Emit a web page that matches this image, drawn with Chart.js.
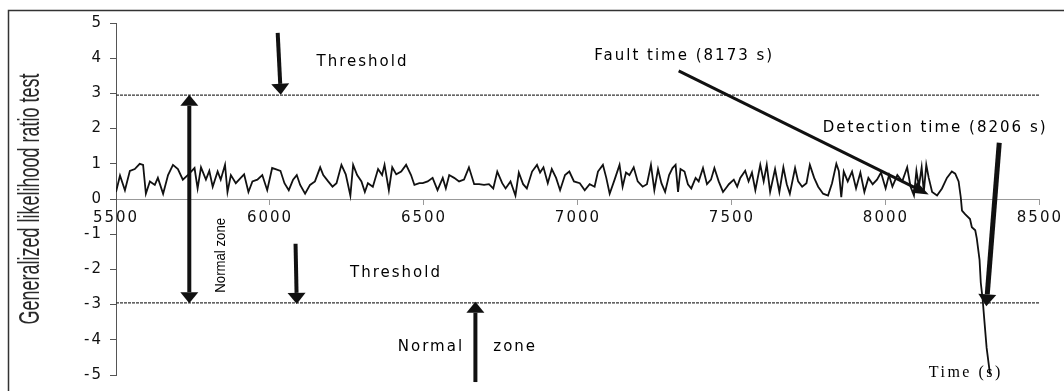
<!DOCTYPE html>
<html><head><meta charset="utf-8">
<script src="https://cdn.jsdelivr.net/npm/chart.js@4/dist/chart.umd.min.js"></script>
<style>html,body{margin:0;padding:0;background:#fff;}#wrap{width:1064px;height:391px;}</style>
</head><body><div id="wrap"><canvas id="c" width="1064" height="391"></canvas></div>
<script>
// ---- data ----
const times = [
5500,5513,5529,5545,5561,5577,5588,5597,5610,5626,5636,5653,5669,5685,5701,5717,5733,5755,5765,5776,5792,5803,5814,5830,5840,5854,5862,5873,5889,5905,5916,5930,5943,5959,5975,5991,
6007,6018,6034,6047,6061,6075,6087,6098,6114,6130,6146,6163,6173,6189,6203,6216,6232,6246,6261,6270,6283,6297,6308,6318,6334,6351,6364,6372,6386,6397,6410,6426,6442,6458,6469,6485,
6496,6512,6528,6544,6561,6571,6582,6598,6614,6630,6646,6663,6679,6695,6711,6725,6738,6754,6765,6781,6797,6808,6822,6834,6851,6867,6877,6888,6902,6915,6929,6942,6958,6972,6987,
7006,7022,7038,7054,7065,7081,7092,7103,7119,7135,7145,7156,7167,7181,7194,7210,7224,7237,7248,7260,7271,7283,7296,7307,7317,7325,7333,7346,7357,7368,7382,7392,7406,7419,7432,7443,7457,7471,7484,
7490,7506,7517,7527,7543,7554,7565,7576,7592,7603,7613,7624,7640,7654,7667,7678,7688,7705,7715,7728,7742,7753,7767,7780,7796,7812,7825,7839,7847,7855,7863,7876,7890,7903,7917,7930,7943,7957,7971,7984,
7999,8010,8021,8037,8053,8069,8080,8091,8099,8107,8116,8123,8131,8139,8150,8166,8182,8198,8214,8225,8236,8243,8247,8257,8273,8279,8290,8295,8304,8308,8314,8320,8327,8338
];
const glrValues = [
0.2,0.67,0.25,0.8,0.85,1.0,0.97,0.15,0.5,0.4,0.6,0.15,0.68,0.97,0.85,0.55,0.68,0.88,0.3,0.9,0.55,0.8,0.35,0.78,0.55,0.97,0.2,0.68,0.45,0.6,0.7,0.2,0.5,0.55,0.68,0.25,
0.88,0.85,0.8,0.45,0.25,0.55,0.68,0.4,0.15,0.4,0.5,0.9,0.68,0.5,0.35,0.45,0.97,0.7,0.1,0.97,0.68,0.5,0.2,0.45,0.35,0.85,0.68,0.97,0.25,0.9,0.7,0.78,0.97,0.68,0.4,0.45,
0.45,0.5,0.6,0.25,0.6,0.3,0.68,0.6,0.5,0.55,0.9,0.42,0.42,0.4,0.42,0.3,0.78,0.45,0.3,0.5,0.1,0.75,0.42,0.3,0.78,0.97,0.75,0.9,0.45,0.85,0.6,0.25,0.68,0.78,0.5,
0.45,0.25,0.42,0.35,0.78,0.97,0.6,0.15,0.55,0.97,0.35,0.75,0.68,0.9,0.5,0.35,0.42,0.97,0.25,0.85,0.45,0.2,0.68,0.88,0.97,0.2,0.85,0.78,0.42,0.3,0.6,0.5,0.88,0.42,0.55,0.88,0.5,0.2,0.35,
0.42,0.55,0.35,0.6,0.8,0.5,0.75,0.25,0.97,0.5,0.97,0.2,0.85,0.2,0.9,0.42,0.15,0.88,0.5,0.35,0.45,0.97,0.6,0.35,0.15,0.1,0.45,1.0,0.8,0.05,0.78,0.5,0.78,0.3,0.75,0.2,0.6,0.42,0.55,0.75,
0.3,0.68,0.35,0.68,0.5,0.9,0.35,0.1,0.8,0.35,0.9,0.2,0.97,0.6,0.2,0.1,0.3,0.6,0.78,0.72,0.5,0.05,-0.33,-0.43,-0.57,-0.8,-0.89,-1.12,-1.73,-2.38,-2.84,-3.49,-4.23,-4.98
];
const thresholdTimes = [5500, 8500];
const upperThreshold = [2.95, 2.95];
const lowerThreshold = [-2.95, -2.95];
const xTickValues = [5500, 6000, 6500, 7000, 7500, 8000, 8500];
const yTickValues = [-5, -4, -3, -2, -1, 0, 1, 2, 3, 4, 5];
const yTitle = 'Generalized likelihood ratio test';

// ---- annotations (positions in data units) ----
const arrows = [
  {from:[6025,4.72], to:[6035,2.96], lw:4, hl:11, hw:18},
  {from:[5738,-2.96], to:[5738,2.96], lw:4, hl:11, hw:18, both:true},
  {from:[6083,-1.27], to:[6087,-2.98], lw:4, hl:11, hw:18},
  {from:[6667,-5.2], to:[6667,-2.92], lw:4, hl:11, hw:18},
  {from:[7327,3.64], to:[8139,0.13], lw:3, hl:16, hw:12},
  {from:[8368,1.6], to:[8326,-3.05], lw:5, hl:12, hw:18}
];
const notes = [
  {text:'Threshold', at:[6151,3.89]},
  {text:'Threshold', at:[6260,-2.1]},
  {text:'Normal', at:[6415,-4.22]},
  {text:'zone', at:[6725,-4.22]},
  {text:'Fault time (8173 s)', at:[7053,4.05]},
  {text:'Detection time (8206 s)', at:[7795,2.02]},
  {text:'Time (s)', at:[8139,-4.94], serif:true}
];
const rotatedNote = {text:'Normal zone', at:[5842,-1.6]};

const SANS = '"DejaVu Sans", Arial, sans-serif';
const SPACING = '2px';

function drawArrow(ctx, x1, y1, x2, y2, lw, hl, hw) {
  const a = Math.atan2(y2 - y1, x2 - x1);
  const bx = x2 - hl * Math.cos(a), by = y2 - hl * Math.sin(a);
  ctx.lineWidth = lw;
  ctx.beginPath(); ctx.moveTo(x1, y1); ctx.lineTo(bx, by); ctx.stroke();
  const px = -Math.sin(a) * hw / 2, py = Math.cos(a) * hw / 2;
  ctx.beginPath();
  ctx.moveTo(x2, y2); ctx.lineTo(bx + px, by + py); ctx.lineTo(bx - px, by - py);
  ctx.closePath(); ctx.fill();
}

const decor = {
  id: 'decor',
  beforeDraw(chart) {
    const ctx = chart.ctx;
    ctx.save();
    ctx.fillStyle = '#fff';
    ctx.fillRect(0, 0, chart.width, chart.height);
    ctx.strokeStyle = '#333';
    ctx.lineWidth = 1.5;
    ctx.strokeRect(8.5, 10.5, 1070, 400);
    ctx.restore();
    ctx.letterSpacing = SPACING;
  },
  afterDraw(chart) {
    const ctx = chart.ctx, xs = chart.scales.x, ys = chart.scales.y, ca = chart.chartArea;
    ctx.save();
    ctx.fillStyle = '#111'; ctx.strokeStyle = '#111'; ctx.lineCap = 'butt';
    arrows.forEach(a => {
      const x1 = xs.getPixelForValue(a.from[0]), y1 = ys.getPixelForValue(a.from[1]);
      const x2 = xs.getPixelForValue(a.to[0]), y2 = ys.getPixelForValue(a.to[1]);
      if (a.both) {
        const mx = (x1 + x2) / 2, my = (y1 + y2) / 2;
        drawArrow(ctx, mx, my, x2, y2, a.lw, a.hl, a.hw);
        drawArrow(ctx, mx, my, x1, y1, a.lw, a.hl, a.hw);
      } else {
        drawArrow(ctx, x1, y1, x2, y2, a.lw, a.hl, a.hw);
      }
    });
    ctx.fillStyle = '#000';
    ctx.textAlign = 'left'; ctx.textBaseline = 'middle';
    notes.forEach(n => {
      ctx.letterSpacing = n.serif ? '2.5px' : SPACING;
      ctx.font = n.serif ? '16px "Liberation Serif", "Times New Roman", serif' : '15px ' + SANS;
      ctx.fillText(n.text, xs.getPixelForValue(n.at[0]), ys.getPixelForValue(n.at[1]));
    });
    // rotated note
    ctx.save();
    ctx.letterSpacing = '0px';
    ctx.translate(xs.getPixelForValue(rotatedNote.at[0]), ys.getPixelForValue(rotatedNote.at[1]));
    ctx.rotate(-Math.PI / 2);
    ctx.scale(0.88, 1);
    ctx.font = '15px "Liberation Sans", Arial, sans-serif';
    ctx.textAlign = 'center';
    ctx.fillText(rotatedNote.text, 0, 0);
    ctx.restore();
    // y axis title
    ctx.save();
    ctx.letterSpacing = '0px';
    ctx.fillStyle = '#2a2a2a';
    ctx.translate(31, (ca.top + ca.bottom) / 2);
    ctx.rotate(-Math.PI / 2);
    ctx.scale(0.6, 1);
    ctx.font = '30px "Liberation Sans", Arial, sans-serif';
    ctx.textAlign = 'center'; ctx.textBaseline = 'middle';
    ctx.fillText(yTitle, 0, 0);
    ctx.restore();
    ctx.restore();
  }
};

const tickFont = {family: SANS, size: 15};
new Chart(document.getElementById('c'), {
  type: 'line',
  data: {
    datasets: [
      {data: times.map((t, i) => ({x: t, y: glrValues[i]})), borderColor: '#111', borderWidth: 1.8, pointRadius: 0, tension: 0, fill: false},
      {data: thresholdTimes.map((t, i) => ({x: t, y: upperThreshold[i]})), borderColor: '#333', borderWidth: 1.2, borderDash: [3, 1], pointRadius: 0},
      {data: thresholdTimes.map((t, i) => ({x: t, y: lowerThreshold[i]})), borderColor: '#333', borderWidth: 1.2, borderDash: [3, 1], pointRadius: 0}
    ]
  },
  options: {
    responsive: false, animation: false, devicePixelRatio: 1,
    layout: {padding: {left: 10, top: 23, right: 17, bottom: 9}, autoPadding: false},
    plugins: {legend: {display: false}, tooltip: {enabled: false}},
    scales: {
      x: {
        type: 'linear', min: 5500, max: 8500, position: {y: 0},
        afterBuildTicks: s => { s.ticks = xTickValues.map(v => ({value: v})); },
        ticks: {font: tickFont, color: '#111', padding: 5, maxRotation: 0, autoSkip: false, callback: v => String(v)},
        grid: {drawOnChartArea: false, tickLength: 5, color: '#999'},
        border: {color: '#999', width: 1}
      },
      y: {
        min: -5, max: 5,
        afterBuildTicks: s => { s.ticks = yTickValues.map(v => ({value: v})); },
        afterFit: s => { s.width = 106; },
        ticks: {font: tickFont, color: '#111', padding: 7, callback: v => String(v)},
        grid: {drawOnChartArea: false, tickLength: 6, color: '#555'},
        border: {color: '#555', width: 1}
      }
    }
  },
  plugins: [decor]
});
</script></body></html>
